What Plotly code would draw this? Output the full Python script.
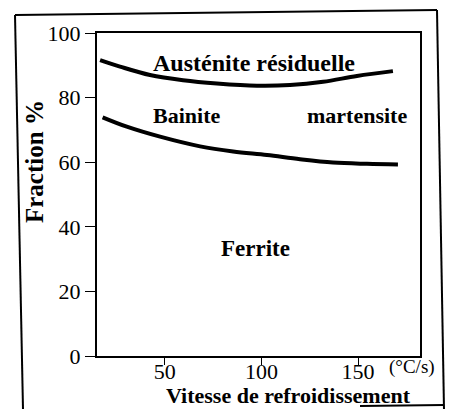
import plotly.graph_objects as go

# Data
upper_x = [16.6, 26.9, 42.4, 59.5, 77.0, 97.7, 114.8, 131.9, 149.4, 168.0]
upper_y = [91.6, 89.6, 87.0, 85.4, 84.4, 83.7, 83.9, 84.9, 86.7, 88.2]
lower_x = [17.9, 30.4, 47.6, 68.3, 85.4, 102.9, 120.0, 137.0, 154.6, 170.6]
lower_y = [73.9, 71.0, 67.9, 64.9, 63.3, 62.2, 60.9, 59.9, 59.5, 59.3]
x_ticks = [50, 100, 150]
y_ticks = [0, 20, 40, 60, 80, 100]
regions = ["Austénite résiduelle", "Bainite", "martensite", "Ferrite"]
region_x = [96.2, 61.5, 149.4, 96.7]
region_y = [90.7, 74.6, 74.6, 33.4]

W, H = 450, 409
L, R, T, B = 97, 420, 33, 356
pw, ph = R - L, B - T

def px(x):
    return (x - L) / pw

def py(y):
    return (B - y) / ph

SERIF = "Liberation Serif, Times New Roman, serif"

fig = go.Figure()
fig.add_trace(go.Scatter(x=upper_x, y=upper_y, mode="lines", line=dict(color="black", width=4, shape="spline"), showlegend=False, hoverinfo="skip"))
fig.add_trace(go.Scatter(x=lower_x, y=lower_y, mode="lines", line=dict(color="black", width=4, shape="spline"), showlegend=False, hoverinfo="skip"))

sizes = [24, 22, 22, 23]
for name, xx, yy, s in zip(regions, region_x, region_y, sizes):
    fig.add_annotation(x=xx, y=yy, text="<b>%s</b>" % name, showarrow=False,
                       xanchor="center", yanchor="middle",
                       font=dict(family=SERIF, size=s, color="black"))

# axis titles and unit
fig.add_annotation(xref="paper", yref="paper", x=px(35), y=py(162), text="<b>Fraction %</b>",
                   textangle=-90, showarrow=False, xanchor="center", yanchor="middle",
                   font=dict(family=SERIF, size=25, color="black"))
fig.add_annotation(xref="paper", yref="paper", x=px(288), y=py(395), text="<b>Vitesse de refroidissement</b>",
                   showarrow=False, xanchor="center", yanchor="middle",
                   font=dict(family=SERIF, size=22, color="black"))
fig.add_annotation(xref="paper", yref="paper", x=px(412), y=py(367), text="(°C/s)",
                   showarrow=False, xanchor="center", yanchor="middle",
                   font=dict(family=SERIF, size=19, color="black"))

# outer scanned frame
frame = [((15, 15), (23, 409)), ((15, 15), (437, 10)), ((437, 10), (444, 409)), ((360, 406), (444, 405))]
for (x0, y0), (x1, y1) in frame:
    fig.add_shape(type="line", xref="paper", yref="paper", x0=px(x0), y0=py(y0), x1=px(x1), y1=py(y1),
                  line=dict(color="black", width=2))

fig.update_xaxes(range=[15, 182], tickvals=x_ticks, ticktext=[str(v) for v in x_ticks],
                 showgrid=False, zeroline=False, showline=True, linecolor="black", linewidth=2,
                 mirror=True, ticks="outside", ticklen=0, tickcolor="black", tickwidth=1,
                 ticklabelstandoff=-5,
                 minor=dict(tickvals=x_ticks, ticks="outside", ticklen=7, tickcolor="black", tickwidth=1, showgrid=False),
                 tickfont=dict(family=SERIF, size=22, color="black"))
fig.update_yaxes(range=[0, 100], tickvals=y_ticks, ticktext=[str(v) for v in y_ticks],
                 showgrid=False, zeroline=False, showline=True, linecolor="black", linewidth=2,
                 mirror=True, ticks="outside", ticklen=10, tickcolor="black", tickwidth=1,
                 tickfont=dict(family=SERIF, size=22, color="black"))

fig.update_layout(width=W, height=H, margin=dict(l=L, r=W - R, t=T, b=H - B, autoexpand=False),
                  paper_bgcolor="white", plot_bgcolor="white", showlegend=False)

fig.write_html("out.html", config={"displayModeBar": False},
               post_script="document.body.style.margin='0';document.body.style.padding='0';")
